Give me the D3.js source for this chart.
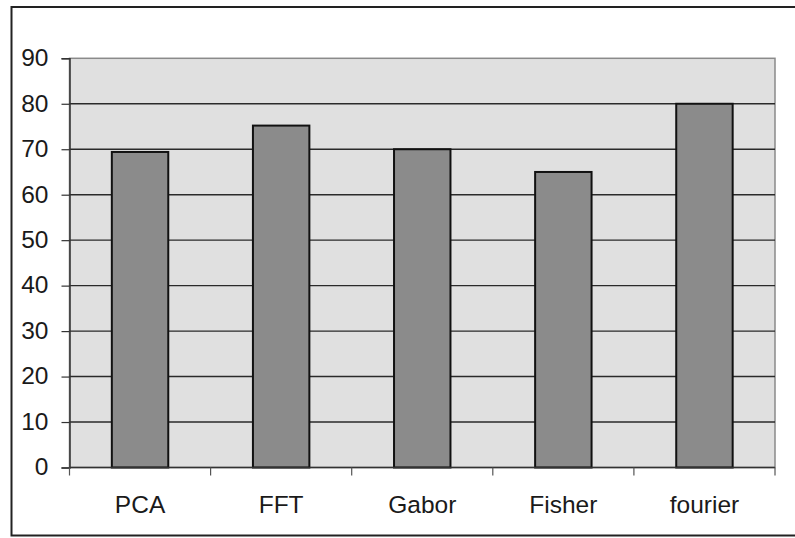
<!DOCTYPE html>
<html>
<head>
<meta charset="utf-8">
<script src="https://cdn.jsdelivr.net/npm/d3@7"></script>
<style>
  html, body { margin: 0; padding: 0; background: #fff; }
  svg { display: block; }
  text { font-family: "Liberation Sans", Arial, sans-serif; fill: #1a1a1a; }
</style>
</head>
<body>
<svg id="chart" width="795" height="538"></svg>
<script>
// Recognition rate per feature-extraction method
const methods = ["PCA", "FFT", "Gabor", "Fisher", "fourier"];
const rates = [69.4, 75.2, 70, 65, 80];
const yTicks = [0, 10, 20, 30, 40, 50, 60, 70, 80, 90];

const svg = d3.select("#chart");
const plot = { left: 69.5, right: 775, top: 58.3, bottom: 467.5 };

const x = d3.scaleBand()
  .domain(methods)
  .range([plot.left, plot.right])
  .paddingInner(0.6)
  .paddingOuter(0.3);

const y = d3.scaleLinear()
  .domain([0, 90])
  .range([plot.bottom, plot.top]);

// Outer chart frame
svg.append("rect")
  .attr("x", 11.5).attr("y", 7)
  .attr("width", 800).attr("height", 528.5)
  .attr("fill", "none")
  .attr("stroke", "#222")
  .attr("stroke-width", 2);

// Plot area background
svg.append("rect")
  .attr("x", plot.left).attr("y", plot.top)
  .attr("width", plot.right - plot.left)
  .attr("height", plot.bottom - plot.top)
  .attr("fill", "#e0e0e0")
  .attr("stroke", "#8a8a8a")
  .attr("stroke-width", 1.5);

// Horizontal gridlines
svg.append("g")
  .selectAll("line")
  .data(yTicks.filter(d => d > 0 && d < 90))
  .join("line")
  .attr("x1", plot.left).attr("x2", plot.right)
  .attr("y1", d => y(d)).attr("y2", d => y(d))
  .attr("stroke", "#2a2a2a")
  .attr("stroke-width", 1.4);

// Bars
svg.append("g")
  .selectAll("rect")
  .data(methods.map((m, i) => ({ m, v: rates[i] })))
  .join("rect")
  .attr("x", d => x(d.m))
  .attr("y", d => y(d.v))
  .attr("width", x.bandwidth())
  .attr("height", d => y(0) - y(d.v))
  .attr("fill", "#8b8b8b")
  .attr("stroke", "#111")
  .attr("stroke-width", 2);

// Y axis
const yAxis = d3.axisLeft(y)
  .tickValues(yTicks)
  .tickSize(8)
  .tickPadding(13);
const gy = svg.append("g")
  .attr("transform", `translate(${plot.left},0)`)
  .call(yAxis);
gy.select(".domain").attr("stroke", "#333").attr("stroke-width", 1.5);
gy.selectAll(".tick line").attr("stroke", "#333").attr("stroke-width", 1.2);
gy.selectAll(".tick text")
  .attr("font-size", 24.5)
  .attr("dy", "0.30em")
  .style("font-family", "'Liberation Sans', Arial, sans-serif")
  .attr("fill", "#1a1a1a");

// X axis: ticks fall on category boundaries
const step = x.step();
const bounds = d3.range(methods.length + 1).map(i => plot.left + i * step);
const gx = svg.append("g");
gx.append("line")
  .attr("x1", plot.left).attr("x2", plot.right)
  .attr("y1", plot.bottom).attr("y2", plot.bottom)
  .attr("stroke", "#333").attr("stroke-width", 1.5);
gx.selectAll("line.tick")
  .data(bounds)
  .join("line")
  .attr("class", "tick")
  .attr("x1", d => d).attr("x2", d => d)
  .attr("y1", plot.bottom).attr("y2", plot.bottom + 8)
  .attr("stroke", "#555").attr("stroke-width", 1.2);
gx.selectAll("text")
  .data(methods)
  .join("text")
  .attr("x", d => x(d) + x.bandwidth() / 2)
  .attr("y", 513)
  .attr("text-anchor", "middle")
  .attr("font-size", 24.5)
  .text(d => d);
</script>
</body>
</html>
